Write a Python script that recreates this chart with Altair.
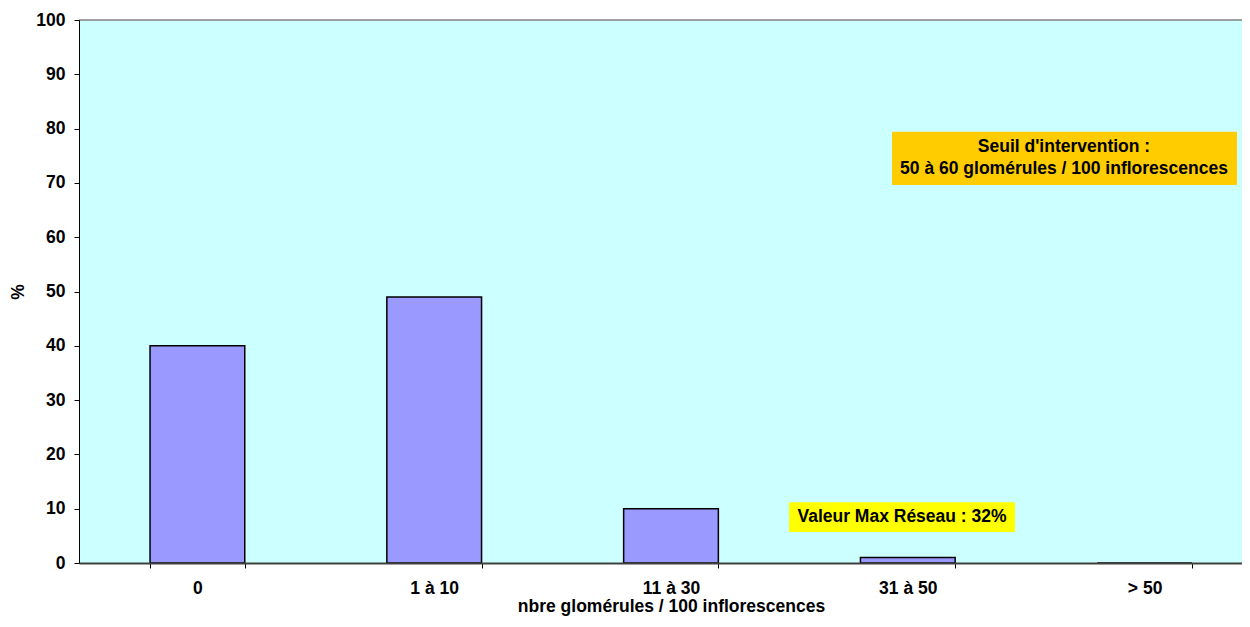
import altair as alt
import pandas as pd

categories = ["0", "1 à 10", "11 à 30", "31 à 50", "> 50"]
values = [40, 49, 10, 1, 0]

note1_lines = ["Seuil d'intervention :", "50 à 60 glomérules / 100 inflorescences"]
note1_line_y = [76.6, 72.5]
note1_box_y = [79.4, 69.6]

note2_text = ["Valeur Max Réseau : 32%"]
note2_text_y = [8.4]
note2_box_y = [11.2, 5.7]

FONT = "Liberation Sans"
FS = 17.5
W, H = 1163, 543
RANGE_W = 1184

df = pd.DataFrame({"cat": categories, "val": values})

xscale = alt.Scale(domain=categories, paddingInner=0.6, paddingOuter=0.3, range=[0, RANGE_W])
yscale = alt.Scale(domain=[0, 100])

top_line = alt.Chart(pd.DataFrame({"a": [0]})).mark_rule(color="#808080", strokeWidth=1.5).encode(
    y=alt.value(0), x=alt.value(0), x2=alt.value(RANGE_W))

bars = alt.Chart(df).mark_bar(color="#9999FF", stroke="black", strokeWidth=1.5).encode(
    x=alt.X("cat:N", scale=xscale, sort=categories,
            axis=alt.Axis(title="nbre glomérules / 100 inflorescences", labelAngle=0,
                          tickBand="extent", tickSize=5, tickColor="black",
                          domainColor="#404040", domainWidth=2, zindex=1,
                          labelPadding=11, titlePadding=1)),
    y=alt.Y("val:Q", scale=yscale,
            axis=alt.Axis(title="%", values=list(range(0, 101, 10)), grid=False,
                          tickSize=5, tickColor="black", domainColor="black", zindex=1,
                          labelPadding=9, titlePadding=8)),
)

box1 = alt.Chart(pd.DataFrame({"y1": [note1_box_y[0]], "y2": [note1_box_y[1]]})).mark_rect(
    color="#FFCC00").encode(
    x=alt.value(813), x2=alt.value(1158),
    y=alt.Y("y1:Q", scale=yscale), y2="y2:Q")
text1 = alt.Chart(pd.DataFrame({"t": note1_lines, "y": note1_line_y})).mark_text(
    font=FONT, fontSize=FS, fontWeight="bold", color="black", align="center", baseline="middle").encode(
    x=alt.value(985), y=alt.Y("y:Q", scale=yscale), text="t:N")

box2 = alt.Chart(pd.DataFrame({"y1": [note2_box_y[0]], "y2": [note2_box_y[1]]})).mark_rect(
    color="#FFFF00").encode(
    x=alt.value(710), x2=alt.value(936),
    y=alt.Y("y1:Q", scale=yscale), y2="y2:Q")
text2 = alt.Chart(pd.DataFrame({"t": note2_text, "y": note2_text_y})).mark_text(
    font=FONT, fontSize=FS, fontWeight="bold", color="black", align="center", baseline="middle").encode(
    x=alt.value(823), y=alt.Y("y:Q", scale=yscale), text="t:N")

chart = alt.layer(top_line, bars, box1, text1, box2, text2).properties(
    width=W, height=H,
    autosize=alt.AutoSizeParams(type="none"),
    padding={"left": 71, "top": 12, "right": 0, "bottom": 56},
    background="white",
).configure_view(
    fill="#CCFFFF", stroke=None
).configure_axis(
    labelFont=FONT, titleFont=FONT, labelFontSize=FS, titleFontSize=FS,
    labelFontWeight="bold", titleFontWeight="bold", labelColor="black", titleColor="black",
)

chart.save("out.html", embed_options={"renderer": "svg", "actions": False})
